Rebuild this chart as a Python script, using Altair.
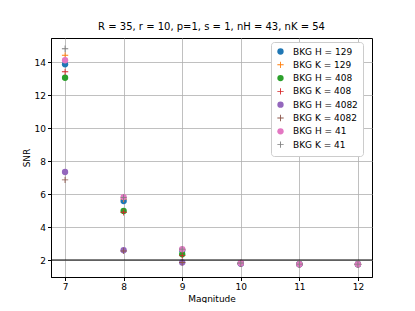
import altair as alt
import pandas as pd

magnitudes = [7, 8, 9, 10, 11, 12]
series_names = ["BKG H = 129", "BKG K = 129", "BKG H = 408", "BKG K = 408",
                "BKG H = 4082", "BKG K = 4082", "BKG H = 41", "BKG K = 41"]
series_kind = ["H", "K", "H", "K", "H", "K", "H", "K"]
snr_h129 = [13.87, 5.58, 2.60, 1.80, 1.75, 1.75]
snr_k129 = [14.42, 5.70, 2.62, 1.80, 1.75, 1.75]
snr_h408 = [13.06, 4.98, 2.35, 1.80, 1.75, 1.75]
snr_k408 = [13.42, 4.90, 2.28, 1.78, 1.75, 1.74]
snr_h4082 = [7.34, 2.60, 1.85, 1.78, 1.74, 1.74]
snr_k4082 = [6.86, 2.55, 1.85, 1.77, 1.74, 1.74]
snr_h41 = [14.12, 5.82, 2.66, 1.82, 1.75, 1.75]
snr_k41 = [14.82, 5.80, 2.66, 1.82, 1.75, 1.75]
all_snr = [snr_h129, snr_k129, snr_h408, snr_k408, snr_h4082, snr_k4082, snr_h41, snr_k41]
colors = ["#1f77b4", "#ff7f0e", "#2ca02c", "#d62728", "#9467bd", "#8c564b", "#e377c2", "#7f7f7f"]
y_ticks = [2, 4, 6, 8, 10, 12, 14]
threshold = [2]
title_text = "R = 35, r = 10, p=1, s = 1, nH = 43, nK = 54"

rows = []
for i, (name, vals) in enumerate(zip(series_names, all_snr)):
    for m, v in zip(magnitudes, vals):
        rows.append({"series": name, "order": i, "Magnitude": m, "SNR": v})
df = pd.DataFrame(rows)

plus_path = ("M-1,-0.14L-0.14,-0.14L-0.14,-1L0.14,-1L0.14,-0.14L1,-0.14L1,0.14"
             "L0.14,0.14L0.14,1L-0.14,1L-0.14,0.14L-1,0.14Z")
shapes = ["circle" if k == "H" else plus_path for k in series_kind]

font = "DejaVu Sans"
xscale = alt.Scale(domain=[6.76, 12.24], nice=False, zero=False)
yscale = alt.Scale(domain=[0.97, 15.47], nice=False, zero=False)
yaxis = alt.Axis(values=y_ticks, title="SNR", labelOverlap=False, tickCount=7)

points = alt.Chart(df).mark_point(filled=True, opacity=1, size=40).encode(
    x=alt.X("Magnitude:Q", scale=xscale,
            axis=alt.Axis(values=magnitudes, title="Magnitude", format="d", labelOverlap=False)),
    y=alt.Y("SNR:Q", scale=yscale, axis=yaxis),
    color=alt.Color("series:N", sort=series_names,
                    scale=alt.Scale(domain=series_names, range=colors),
                    legend=alt.Legend(title=None, orient="none", legendX=220, legendY=4,
                                      fillColor="white", strokeColor="#cccccc",
                                      padding=5, cornerRadius=3, symbolSize=40,
                                      labelFont=font, labelFontSize=9, rowPadding=0.3,
                                      symbolOpacity=1, labelOffset=8)),
    shape=alt.Shape("series:N", sort=series_names,
                    scale=alt.Scale(domain=series_names, range=shapes)),
    order=alt.Order("order:Q"),
)

rule = alt.Chart(pd.DataFrame({"SNR": threshold})).mark_rule(color="black", strokeWidth=1.2).encode(
    y=alt.Y("SNR:Q", scale=yscale, axis=yaxis)
)

chart = alt.layer(points, rule).properties(
    width=321, height=239,
    title=alt.Title(title_text, font=font, fontSize=10, fontWeight="normal", offset=6),
    autosize=alt.AutoSizeParams(type="none"),
    padding={"left": 43, "top": 30, "right": 35, "bottom": 26},
).configure_axis(
    grid=True, gridColor="#b0b0b0", gridWidth=0.8, domainColor="black",
    tickColor="black", labelFont=font, labelFontSize=9, titleFont=font,
    titleFontSize=9, titleFontWeight="normal", labelColor="black", titleColor="black",
    tickSize=3.5,
).configure_axisX(titlePadding=3).configure_axisY(titlePadding=3).configure_view(
    stroke="black", strokeWidth=1
)

chart.save("out.html", embed_options={"renderer": "svg", "actions": False})
